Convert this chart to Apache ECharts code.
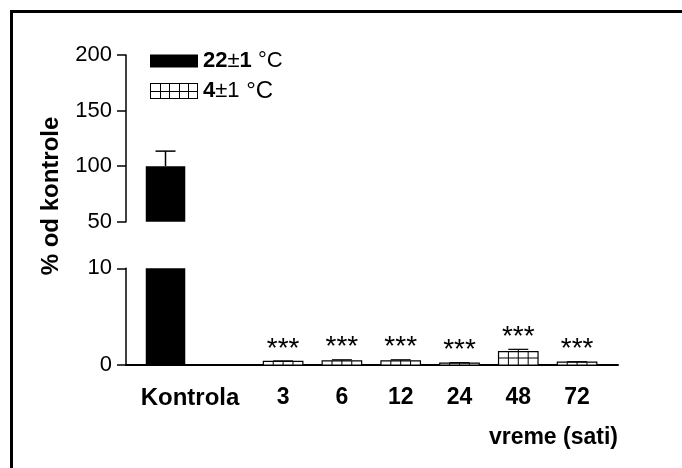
<!DOCTYPE html>
<html>
<head>
<meta charset="utf-8">
<script src="https://cdn.jsdelivr.net/npm/echarts@6/dist/echarts.min.js"></script>
<style>
  html, body { margin: 0; padding: 0; background: #fff; }
  #chart { width: 682px; height: 468px; }
</style>
</head>
<body>
<div id="chart"></div>
<script>
// Groups along the time axis (the empty slot separates control from cold exposure)
const categories = ['Kontrola', '', '3', '6', '12', '24', '48', '72'];

// Control group (22±1 °C), % of control
const controlMean = [100];
const controlSem = [13.5];

// Cold exposure (4±1 °C) at 3, 6, 12, 24, 48 and 72 h, % of control
const coldHours = ['3', '6', '12', '24', '48', '72'];
const coldMean = [0.38, 0.42, 0.42, 0.2, 1.38, 0.3];
const coldSem = [0.04, 0.12, 0.12, 0.04, 0.24, 0.04];
const significance = ['***', '***', '***', '***', '***', '***'];

// Broken y axis: upper and lower segments
const upperTicks = [50, 100, 150, 200];
const lowerTicks = [0, 10];

const seriesNames = ['22\u00b11 \u00b0C', '4\u00b11 \u00b0C'];

const FONT = '"Liberation Sans", Arial, Helvetica, sans-serif';
const BAR_FRAC = 0.672;
const CAP_W = 20;

const controlData = controlMean.map((m, i) => [categories.indexOf('Kontrola') + 1, m, controlSem[i]]);
const coldData = coldMean.map((m, i) => [categories.indexOf(coldHours[i]) + 1, m, coldSem[i]]);

// Grid-patterned swatch for the cold series legend icon
function gridSwatch(w, h, cols, rows) {
  const c = document.createElement('canvas');
  c.width = w; c.height = h;
  const g = c.getContext('2d');
  g.fillStyle = '#fff';
  g.fillRect(0, 0, w, h);
  g.strokeStyle = '#000';
  g.lineWidth = 1;
  for (let i = 1; i < cols; i++) {
    const x = Math.round(i * w / cols) + 0.5;
    g.beginPath(); g.moveTo(x, 0); g.lineTo(x, h); g.stroke();
  }
  for (let j = 1; j < rows; j++) {
    const y = Math.round(j * h / rows) + 0.5;
    g.beginPath(); g.moveTo(0, y); g.lineTo(w, y); g.stroke();
  }
  g.strokeRect(0.5, 0.5, w - 1, h - 1);
  return c.toDataURL();
}

// Solid control bar, clipped to one segment of the broken axis
function controlRender(lo, hi, withError) {
  return function (params, api) {
    const x = api.value(0), mean = api.value(1), sem = api.value(2);
    const bw = api.size([1, 0])[0] * BAR_FRAC;
    const top = api.coord([x, Math.min(mean, hi)]);
    const base = api.coord([x, lo]);
    const cx = top[0];
    const children = [{
      type: 'rect',
      shape: { x: cx - bw / 2, y: top[1], width: bw, height: base[1] - top[1] },
      style: { fill: '#000' }
    }];
    if (withError) {
      const cap = api.coord([x, mean + sem]);
      children.push({
        type: 'line',
        shape: { x1: cx, y1: top[1], x2: cx, y2: cap[1] },
        style: { stroke: '#000', lineWidth: 1.5 }
      });
      children.push({
        type: 'line',
        shape: { x1: cx - CAP_W / 2, y1: cap[1], x2: cx + CAP_W / 2, y2: cap[1] },
        style: { stroke: '#000', lineWidth: 1.5 }
      });
    }
    return { type: 'group', children };
  };
}

// Open bar with a cell grid, SEM whisker and significance stars
function coldRender(params, api) {
  const x = api.value(0), mean = api.value(1), sem = api.value(2);
  const stars = significance[params.dataIndex];
  const bw = api.size([1, 0])[0] * BAR_FRAC;
  const top = api.coord([x, mean]);
  const base = api.coord([x, 0]);
  const cap = api.coord([x, mean + sem]);
  const cx = top[0];
  const left = cx - bw / 2;
  const h = base[1] - top[1];
  const lineStyle = { stroke: '#000', lineWidth: 1 };
  const children = [{
    type: 'rect',
    shape: { x: left, y: top[1], width: bw, height: h },
    style: { fill: '#fff', stroke: '#000', lineWidth: 1.2 }
  }];
  for (let i = 1; i < 4; i++) {
    const lx = left + i * bw / 4;
    children.push({ type: 'line', shape: { x1: lx, y1: top[1], x2: lx, y2: base[1] }, style: lineStyle });
  }
  for (let yy = base[1] - 7; yy > top[1] + 1; yy -= 7) {
    children.push({ type: 'line', shape: { x1: left, y1: yy, x2: left + bw, y2: yy }, style: lineStyle });
  }
  children.push({ type: 'line', shape: { x1: cx, y1: top[1], x2: cx, y2: cap[1] }, style: lineStyle });
  children.push({ type: 'line', shape: { x1: cx - CAP_W / 2, y1: cap[1], x2: cx + CAP_W / 2, y2: cap[1] }, style: { stroke: '#000', lineWidth: 1.2 } });
  children.push({
    type: 'text',
    x: cx, y: cap[1] - 12,
    style: { text: stars, font: '28px ' + FONT, fill: '#000', textAlign: 'center', textVerticalAlign: 'middle' }
  });
  return { type: 'group', children };
}

const chart = echarts.init(document.getElementById('chart'), null, { renderer: 'canvas' });

const legendRich = {
  b: { fontWeight: 'bold', fontSize: 22, lineHeight: 22, color: '#000', fontFamily: FONT },
  t: { fontWeight: 'normal', fontSize: 22, lineHeight: 22, color: '#000', fontFamily: FONT },
  n: { fontWeight: 'normal', fontSize: 22, lineHeight: 22, color: '#000', fontFamily: FONT },
  c: { fontWeight: 'normal', fontSize: 24, lineHeight: 22, color: '#000', fontFamily: FONT }
};

const xCommon = { type: 'value', min: 0.328, max: 8.696 };

const yAxisStyle = {
  axisLine: { show: true, lineStyle: { color: '#000', width: 1.5 } },
  axisTick: { show: true, length: 9, lineStyle: { color: '#000', width: 1.5 } },
  splitLine: { show: false },
  axisLabel: { color: '#000', fontSize: 22, margin: 14, fontFamily: FONT }
};

chart.setOption({
  animation: false,
  backgroundColor: '#fff',
  textStyle: { fontFamily: FONT, color: '#000' },
  grid: [
    { left: 126, right: 64, top: 55, height: 166.7 },
    { left: 126, right: 64, top: 268.3, height: 96.7 }
  ],
  legend: [
    {
      left: 150, top: 50, padding: 0, itemWidth: 48, itemHeight: 13, selectedMode: false,
      data: [{ name: seriesNames[0], icon: 'rect', itemStyle: { color: '#000' } }],
      formatter: () => '{b|22}{t|\u00b1}{b|1}{n| \u00b0C}',
      textStyle: { rich: legendRich }
    },
    {
      left: 150, top: 79, padding: 0, itemWidth: 48, itemHeight: 16, selectedMode: false,
      data: [{ name: seriesNames[1], icon: 'image://' + gridSwatch(48, 16, 5, 2) }],
      formatter: () => '{b|4}{t|\u00b1}{n|1}{c| \u00b0C}',
      textStyle: { rich: legendRich }
    }
  ],
  xAxis: [
    Object.assign({ gridIndex: 0, show: false }, xCommon),
    Object.assign({
      gridIndex: 1,
      axisLine: { show: true, onZero: false, lineStyle: { color: '#000', width: 2 } },
      axisTick: { show: false },
      splitLine: { show: false },
      axisLabel: {
        customValues: categories.map((c, i) => c ? i + 1 : null).filter(v => v !== null),
        margin: 21,
        color: '#000',
        fontSize: 23,
        fontWeight: 'bold',
        fontFamily: FONT,
        formatter: v => {
          const name = categories[Math.round(v) - 1];
          return name === 'Kontrola' ? '{k|' + name + '}' : name;
        },
        rich: { k: { fontSize: 24, fontWeight: 'bold', fontFamily: FONT, color: '#000', padding: [0, 0, 0, 49] } }
      }
    }, xCommon)
  ],
  yAxis: [
    Object.assign({
      gridIndex: 0, type: 'value', min: upperTicks[0], max: upperTicks[upperTicks.length - 1], interval: 50
    }, yAxisStyle),
    Object.assign({
      gridIndex: 1, type: 'value', min: lowerTicks[0], max: lowerTicks[1], interval: 10
    }, yAxisStyle)
  ],
  series: [
    {
      name: seriesNames[0], type: 'custom', xAxisIndex: 0, yAxisIndex: 0,
      itemStyle: { color: '#000' },
      renderItem: controlRender(upperTicks[0], upperTicks[upperTicks.length - 1], true),
      data: controlData, clip: false
    },
    {
      name: seriesNames[0], type: 'custom', xAxisIndex: 1, yAxisIndex: 1,
      itemStyle: { color: '#000' },
      renderItem: controlRender(lowerTicks[0], lowerTicks[1], false),
      data: controlData, clip: false
    },
    {
      name: seriesNames[1], type: 'custom', xAxisIndex: 1, yAxisIndex: 1,
      itemStyle: { color: '#fff' },
      renderItem: coldRender,
      data: coldData, clip: false
    }
  ],
  graphic: [
    {
      type: 'rect', silent: true, z: 100,
      shape: { x: 11.5, y: 11.5, width: 720, height: 520 },
      style: { fill: 'none', stroke: '#000', lineWidth: 3 }
    },
    {
      type: 'text', x: 51, y: 196, rotation: Math.PI / 2,
      style: { text: '% od kontrole', font: 'bold 24px ' + FONT, fill: '#000', textAlign: 'center', textVerticalAlign: 'middle' }
    },
    {
      type: 'text', x: 618, y: 438,
      style: { text: 'vreme (sati)', font: 'bold 23px ' + FONT, fill: '#000', textAlign: 'right', textVerticalAlign: 'middle' }
    }
  ]
});
</script>
</body>
</html>
